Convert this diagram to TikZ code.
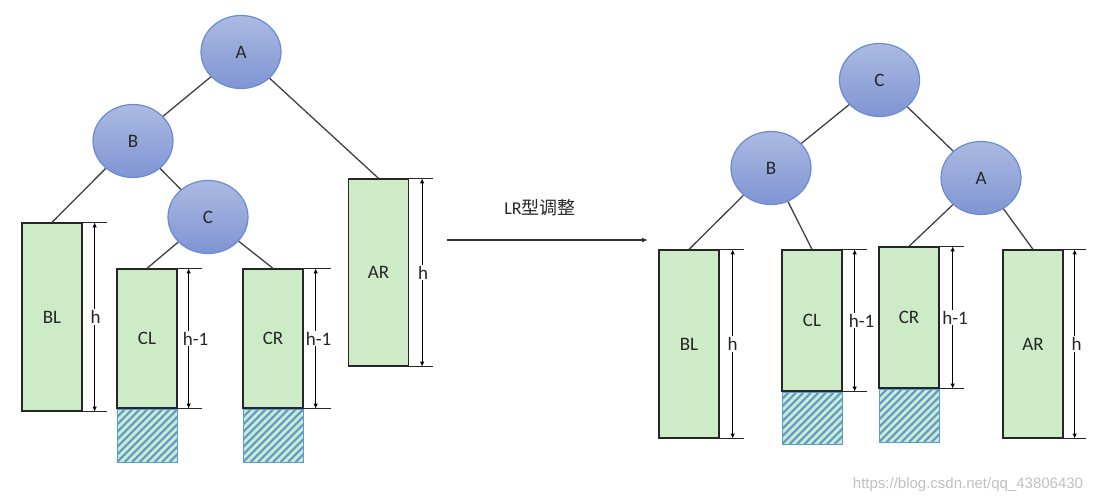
\documentclass[tikz,border=0pt]{standalone}
\usepackage{fontspec}
\setmainfont{Carlito}
\newfontfamily\cjk{Noto Sans CJK SC}
\newfontfamily\wmfont{Liberation Sans}
\usetikzlibrary{arrows.meta,shapes.geometric,calc}
\definecolor{nodeborder}{HTML}{6A8BD4}
\definecolor{ntop}{HTML}{ABBAE2}
\definecolor{nbot}{HTML}{7F95D3}
\definecolor{leafgreen}{HTML}{CDEBC7}
\definecolor{hatchblue}{HTML}{5B9BD5}
\definecolor{txt}{HTML}{262626}
\newcommand\dimension[5]{%
  \draw[ext] (#1.north east) -- ++(#3,0);
  \draw[ext] (#1.south east) -- ++(#3,0);
  \draw[dim] ($(#1.north east)+(#2,0)$) -- node[dimlbl, xshift=#5]{#4} ($(#1.south east)+(#2,0)$);
}
\begin{document}
\begin{tikzpicture}[x=1pt,y=-1pt,
  tree/.style={ellipse, minimum width=80pt, minimum height=73pt, inner sep=0pt,
    draw=nodeborder, line width=1.2pt, top color=ntop, bottom color=nbot,
    text=txt, font=\fontsize{19}{19}\selectfont},
  leaf/.style={rectangle, draw=black!85, line width=1.3pt, fill=leafgreen,
    minimum width=60pt, inner sep=0pt, text=txt, font=\fontsize{19}{19}\selectfont},
  hatch/.style={rectangle, draw=hatchblue, line width=1pt, fill=leafgreen,
    minimum width=60pt, inner sep=0pt,
    path picture={\foreach \i in {-90,-82.5,...,90}{
      \draw[hatchblue, line width=2.1pt]
        ($(path picture bounding box.south west)+(\i pt,0pt)$) -- ++(90pt,90pt);}}},
  edge/.style={draw=black!75, line width=1.3pt},
  ext/.style={draw=black!85, line width=1.2pt},
  dim/.style={draw=black, line width=1.2pt, {Latex[length=5pt,width=4.5pt]}-{Latex[length=5pt,width=4.5pt]}},
  dimlbl/.style={fill=white, inner sep=1pt, text=txt, font=\fontsize{19}{19}\selectfont},
  flow/.style={draw=black!80, line width=1.3pt, -{Latex[length=6pt,width=5pt]}}]
\useasboundingbox (0,0) rectangle (1100,503);

% ---------- left tree ----------
\node[tree] (A) at (241,52) {A};
\node[tree] (B) at (133,141) {B};
\node[tree] (C) at (208,217) {C};
\node[leaf, minimum height=188pt] (BL) at (52,317) {BL};
\node[leaf, minimum height=139pt] (CL) at (147,338.5) {CL};
\node[hatch, minimum height=53pt, anchor=north] (CLh) at (CL.south) {};
\node[leaf, minimum height=139pt] (CR) at (273,338.5) {CR};
\node[hatch, minimum height=53pt, anchor=north] (CRh) at (CR.south) {};
\node[leaf, minimum height=187pt] (AR) at (378.5,272.5) {AR};

\draw[edge] (A) -- (B);
\draw[edge] (A) -- (AR.north);
\draw[edge] (B) -- (BL.north);
\draw[edge] (B) -- (C);
\draw[edge] (C) -- (CL.north);
\draw[edge] (C) -- (CR.north);

\dimension{BL}{12}{24}{h}{1pt}
\dimension{CL}{11}{24}{h-1}{7pt}
\dimension{CR}{12}{27}{h-1}{3pt}
\dimension{AR}{13}{24}{h}{1pt}

% ---------- transformation arrow ----------
\coordinate (f1) at (447,240);
\coordinate (f2) at (648,240);
\draw[flow] (f1) -- (f2);
\node[text=txt, font=\fontsize{18}{18}\selectfont] (lbl) at (540,208) {LR{\cjk 型调整}};

% ---------- right tree ----------
\node[tree] (C2) at (879.5,80) {C};
\node[tree] (B2) at (771,168) {B};
\node[tree] (A2) at (981,178) {A};
\node[leaf, minimum height=188pt] (BL2) at (689,344) {BL};
\node[leaf, minimum height=141pt] (CL2) at (812,320.5) {CL};
\node[hatch, minimum height=52pt, anchor=north] (CL2h) at (CL2.south) {};
\node[leaf, minimum height=141pt] (CR2) at (909,317.5) {CR};
\node[hatch, minimum height=53pt, anchor=north] (CR2h) at (CR2.south) {};
\node[leaf, minimum height=188pt] (AR2) at (1033,344) {AR};

\draw[edge] (C2) -- (B2);
\draw[edge] (C2) -- (A2);
\draw[edge] (B2) -- (BL2.north);
\draw[edge] (B2) -- (CL2.north);
\draw[edge] (A2) -- (CR2.north);
\draw[edge] (A2) -- (AR2.north);

\dimension{BL2}{13}{24}{h}{0pt}
\dimension{CL2}{12}{24}{h-1}{7pt}
\dimension{CR2}{13}{24}{h-1}{2.5pt}
\dimension{AR2}{11}{22}{h}{2pt}

% ---------- watermark ----------
\node[text=black!25, font=\wmfont\fontsize{15}{15}\selectfont] (wm) at (968,485) {https://blog.csdn.net/qq\_43806430};
\end{tikzpicture}
\end{document}
